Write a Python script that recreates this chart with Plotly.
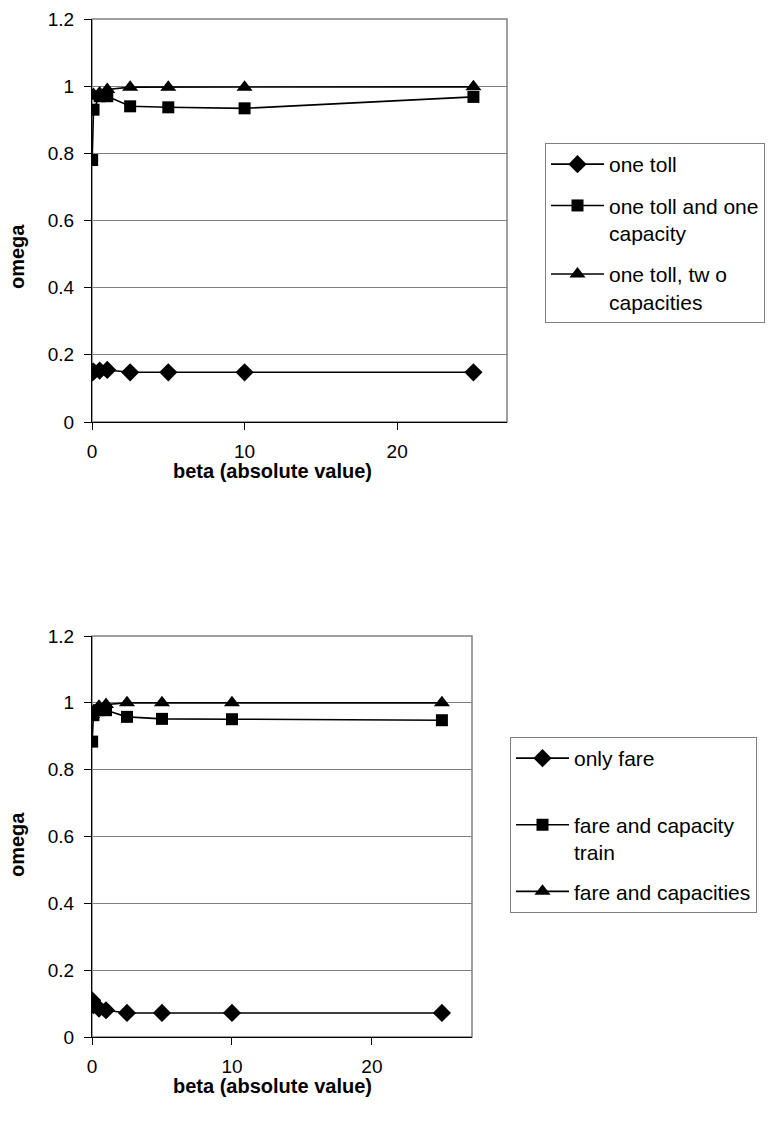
import plotly.graph_objects as go

# ---- data ----
beta = [0.01, 0.1, 0.5, 1, 2.5, 5, 10, 25]

top_names = ["one toll", "one toll and one<br>capacity", "one toll, tw o<br>capacities"]
top_one_toll = [0.148, 0.150, 0.153, 0.155, 0.148, 0.148, 0.148, 0.148]
top_toll_one_cap = [0.78, 0.93, 0.97, 0.97, 0.94, 0.937, 0.934, 0.968]
top_toll_two_cap = [0.97, 0.975, 0.98, 0.99, 0.997, 0.997, 0.997, 0.998]

bot_names = ["only fare<br>&nbsp;", "fare and capacity<br>train", "fare and capacities"]
bot_only_fare = [0.11, 0.095, 0.085, 0.08, 0.072, 0.072, 0.072, 0.072]
bot_fare_cap = [0.884, 0.963, 0.978, 0.978, 0.958, 0.952, 0.951, 0.948]
bot_fare_caps = [0.965, 0.975, 0.99, 0.995, 1.0, 1.0, 1.0, 1.0]

y_ticks = [0, 0.2, 0.4, 0.6, 0.8, 1, 1.2]
y_ticklabels = ["0", "0.2", "0.4", "0.6", "0.8", "1", "1.2"]
x_ticks = [0, 10, 20]

W, H = 768, 1124
FONT = "Liberation Sans, Arial, sans-serif"
symbols = ["diamond", "square", "triangle-up"]
sizes = [14, 12, 14]

fig = go.Figure()

for i, (nm, vals) in enumerate(zip(top_names, [top_one_toll, top_toll_one_cap, top_toll_two_cap])):
    fig.add_trace(go.Scatter(
        x=beta, y=vals, name=nm, mode="lines+markers",
        line=dict(color="black", width=1.6),
        marker=dict(symbol=symbols[i], size=sizes[i], color="black"),
        xaxis="x", yaxis="y", legend="legend", legendgroup="t%d" % i,
    ))

for i, (nm, vals) in enumerate(zip(bot_names, [bot_only_fare, bot_fare_cap, bot_fare_caps])):
    fig.add_trace(go.Scatter(
        x=beta, y=vals, name=nm, mode="lines+markers",
        line=dict(color="black", width=1.6),
        marker=dict(symbol=symbols[i], size=sizes[i], color="black"),
        xaxis="x2", yaxis="y2", legend="legend2", legendgroup="b%d" % i,
    ))

def xax(domain, rng, anchor):
    return dict(domain=domain, range=rng, anchor=anchor, tickvals=x_ticks,
                showgrid=False, zeroline=False, showline=True, linecolor="black",
                linewidth=1, ticks="outside", ticklen=7, tickcolor="black",
                ticklabelstandoff=5, tickfont=dict(family=FONT, size=19, color="black"),
                automargin=False)

def yax(domain, anchor):
    return dict(domain=domain, range=[0, 1.2], anchor=anchor, tickvals=y_ticks,
                ticktext=y_ticklabels, showgrid=True, gridcolor="#808080", gridwidth=1,
                zeroline=False, showline=True, linecolor="black", linewidth=1,
                ticks="outside", ticklen=7, tickcolor="black", ticklabelstandoff=6,
                tickfont=dict(family=FONT, size=19, color="black"), automargin=False)

legend_common = dict(xanchor="left", yanchor="top", bordercolor="#808080", borderwidth=1,
                     bgcolor="white", font=dict(family=FONT, size=21, color="black"),
                     valign="top", itemwidth=53)

fig.update_layout(
    width=W, height=H, margin=dict(l=0, r=0, t=0, b=0, autoexpand=False),
    paper_bgcolor="white", plot_bgcolor="white",
    xaxis=xax([92 / W, 507 / W], [0, 27.2], "y"),
    yaxis=yax([1 - 422 / H, 1 - 19 / H], "x"),
    xaxis2=xax([92 / W, 472 / W], [0, 27.15], "y2"),
    yaxis2=yax([1 - 1037 / H, 1 - 636 / H], "x2"),
    legend=dict(x=545 / W, y=1 - 143 / H, tracegroupgap=11, **legend_common),
    legend2=dict(x=510 / W, y=1 - 737 / H, tracegroupgap=9, **legend_common),
    showlegend=True,
)

# plot area borders (grey)
for xr, yr in [("x domain", "y domain"), ("x2 domain", "y2 domain")]:
    fig.add_shape(type="rect", xref=xr, yref=yr, x0=0, x1=1, y0=0, y1=1,
                  line=dict(color="#808080", width=1.5), layer="below")

# axis titles
title_font = dict(family=FONT, size=20, color="black")
for xc, yc in [(272, 471), (272, 1086)]:
    fig.add_annotation(text="<b>beta (absolute value)</b>", xref="paper", yref="paper",
                       x=xc / W, y=1 - yc / H, showarrow=False, font=title_font,
                       xanchor="center", yanchor="middle")
for xc, yc in [(17, 257), (17, 845)]:
    fig.add_annotation(text="<b>omega</b>", xref="paper", yref="paper",
                       x=xc / W, y=1 - yc / H, showarrow=False, font=title_font,
                       textangle=-90, xanchor="center", yanchor="middle")

fig.write_html("out.html")
